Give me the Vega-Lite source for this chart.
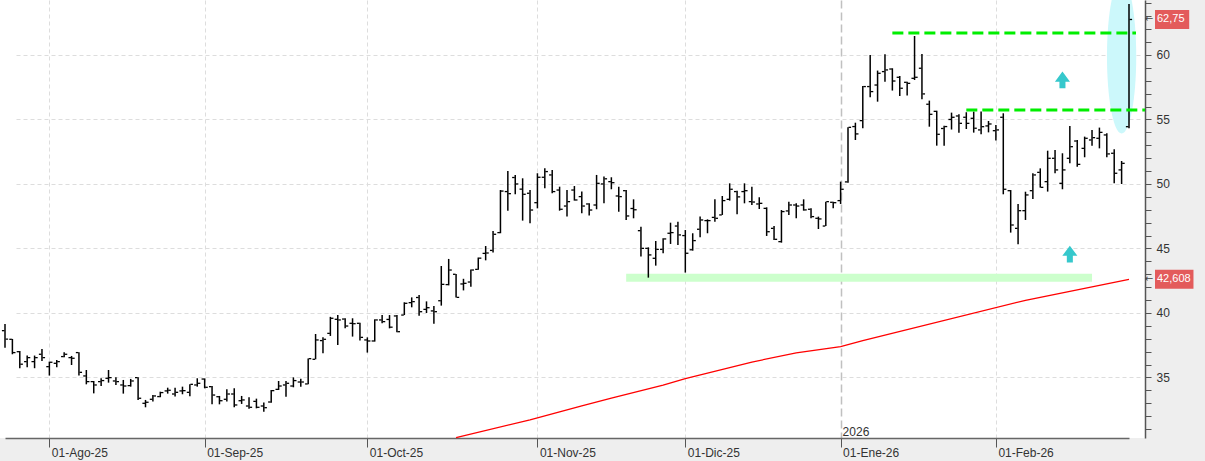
{
  "$schema": "https://vega.github.io/schema/vega-lite/v6.json",
  "width": 1145,
  "height": 438,
  "autosize": {"type": "none"},
  "padding": {"left": 0, "top": 0, "right": 60, "bottom": 23},
  "background": "#eeeeee",
  "config": {"view": {"stroke": null, "fill": "#ffffff"}, "font": "Liberation Sans"},
  "datasets": {
    "bars": [
      {"d":"2025-07-24","o":38.63,"h":39.15,"l":37.31,"c":37.98},
      {"d":"2025-07-25","o":37.96,"h":37.99,"l":36.80,"c":36.93},
      {"d":"2025-07-28","o":37.00,"h":37.06,"l":35.72,"c":36.03},
      {"d":"2025-07-29","o":36.23,"h":36.70,"l":35.79,"c":36.54},
      {"d":"2025-07-30","o":36.23,"h":36.70,"l":35.72,"c":36.54},
      {"d":"2025-07-31","o":36.80,"h":37.21,"l":36.28,"c":36.54},
      {"d":"2025-08-01","o":35.84,"h":36.23,"l":35.15,"c":36.18},
      {"d":"2025-08-04","o":36.10,"h":36.36,"l":35.79,"c":36.23},
      {"d":"2025-08-05","o":36.62,"h":36.95,"l":36.57,"c":36.80},
      {"d":"2025-08-06","o":36.54,"h":36.67,"l":35.97,"c":36.49},
      {"d":"2025-08-07","o":36.93,"h":36.95,"l":35.15,"c":35.40},
      {"d":"2025-08-08","o":35.12,"h":35.58,"l":34.47,"c":34.68},
      {"d":"2025-08-11","o":34.68,"h":34.73,"l":33.77,"c":34.42},
      {"d":"2025-08-12","o":34.68,"h":34.94,"l":34.34,"c":34.76},
      {"d":"2025-08-13","o":34.94,"h":35.58,"l":34.60,"c":34.99},
      {"d":"2025-08-14","o":34.73,"h":35.02,"l":34.42,"c":34.68},
      {"d":"2025-08-15","o":34.42,"h":34.81,"l":33.75,"c":34.34},
      {"d":"2025-08-18","o":34.37,"h":34.89,"l":34.29,"c":34.73},
      {"d":"2025-08-19","o":34.99,"h":35.02,"l":33.26,"c":33.39},
      {"d":"2025-08-20","o":33.00,"h":33.26,"l":32.69,"c":33.08},
      {"d":"2025-08-21","o":33.31,"h":33.65,"l":33.13,"c":33.57},
      {"d":"2025-08-22","o":33.52,"h":33.90,"l":33.47,"c":33.83},
      {"d":"2025-08-25","o":33.96,"h":34.21,"l":33.75,"c":34.01},
      {"d":"2025-08-26","o":33.72,"h":34.21,"l":33.52,"c":33.85},
      {"d":"2025-08-27","o":33.96,"h":34.29,"l":33.70,"c":33.98},
      {"d":"2025-08-28","o":33.85,"h":34.47,"l":33.54,"c":34.47},
      {"d":"2025-08-29","o":34.42,"h":34.94,"l":34.29,"c":34.55},
      {"d":"2025-09-01","o":34.88,"h":34.93,"l":34.16,"c":34.24},
      {"d":"2025-09-02","o":34.29,"h":34.34,"l":32.92,"c":33.64},
      {"d":"2025-09-03","o":33.51,"h":33.57,"l":32.92,"c":33.20},
      {"d":"2025-09-04","o":33.31,"h":34.08,"l":33.13,"c":33.72},
      {"d":"2025-09-05","o":33.72,"h":34.16,"l":32.69,"c":32.87},
      {"d":"2025-09-08","o":33.20,"h":33.57,"l":32.95,"c":33.26},
      {"d":"2025-09-09","o":32.79,"h":33.46,"l":32.58,"c":32.69},
      {"d":"2025-09-10","o":33.15,"h":33.36,"l":32.61,"c":32.69},
      {"d":"2025-09-11","o":32.79,"h":33.07,"l":32.35,"c":32.66},
      {"d":"2025-09-12","o":33.10,"h":34.03,"l":33.05,"c":33.98},
      {"d":"2025-09-15","o":34.08,"h":34.73,"l":34.03,"c":34.34},
      {"d":"2025-09-16","o":34.42,"h":34.73,"l":33.51,"c":34.55},
      {"d":"2025-09-17","o":34.34,"h":35.01,"l":34.24,"c":34.76},
      {"d":"2025-09-18","o":34.65,"h":34.91,"l":34.29,"c":34.65},
      {"d":"2025-09-19","o":34.50,"h":36.48,"l":34.47,"c":36.46},
      {"d":"2025-09-22","o":36.41,"h":38.37,"l":36.41,"c":37.91},
      {"d":"2025-09-23","o":37.86,"h":38.11,"l":36.87,"c":37.96},
      {"d":"2025-09-24","o":38.42,"h":39.70,"l":38.22,"c":39.59},
      {"d":"2025-09-25","o":39.51,"h":39.84,"l":37.52,"c":39.46},
      {"d":"2025-09-26","o":39.53,"h":39.59,"l":38.81,"c":38.99},
      {"d":"2025-09-29","o":39.20,"h":39.59,"l":38.17,"c":39.17},
      {"d":"2025-09-30","o":39.20,"h":39.25,"l":37.86,"c":38.11},
      {"d":"2025-10-01","o":37.91,"h":38.11,"l":36.93,"c":37.83},
      {"d":"2025-10-02","o":37.83,"h":39.51,"l":37.78,"c":39.46},
      {"d":"2025-10-03","o":39.46,"h":39.84,"l":39.20,"c":39.33},
      {"d":"2025-10-06","o":39.50,"h":39.84,"l":38.81,"c":38.90},
      {"d":"2025-10-07","o":39.77,"h":39.84,"l":38.50,"c":38.55},
      {"d":"2025-10-08","o":39.84,"h":40.83,"l":39.84,"c":40.75},
      {"d":"2025-10-09","o":40.80,"h":41.21,"l":40.44,"c":40.88},
      {"d":"2025-10-10","o":41.20,"h":41.39,"l":39.79,"c":40.10},
      {"d":"2025-10-13","o":40.28,"h":40.90,"l":40.00,"c":40.41},
      {"d":"2025-10-14","o":40.16,"h":40.54,"l":39.17,"c":40.10},
      {"d":"2025-10-15","o":40.95,"h":43.64,"l":40.57,"c":42.22},
      {"d":"2025-10-16","o":42.20,"h":44.19,"l":42.14,"c":43.33},
      {"d":"2025-10-17","o":43.00,"h":43.02,"l":41.20,"c":41.21},
      {"d":"2025-10-20","o":42.25,"h":42.65,"l":41.75,"c":42.30},
      {"d":"2025-10-21","o":42.40,"h":43.38,"l":42.04,"c":43.33},
      {"d":"2025-10-22","o":43.38,"h":44.30,"l":43.35,"c":44.25},
      {"d":"2025-10-23","o":44.62,"h":45.19,"l":44.08,"c":44.65},
      {"d":"2025-10-24","o":44.85,"h":46.36,"l":44.68,"c":46.10},
      {"d":"2025-10-27","o":46.23,"h":49.53,"l":46.18,"c":49.45},
      {"d":"2025-10-28","o":49.41,"h":51.01,"l":47.93,"c":49.25},
      {"d":"2025-10-29","o":50.50,"h":50.70,"l":49.20,"c":50.00},
      {"d":"2025-10-30","o":49.60,"h":50.44,"l":47.16,"c":49.20},
      {"d":"2025-10-31","o":49.28,"h":49.53,"l":46.95,"c":47.98},
      {"d":"2025-11-03","o":48.55,"h":50.83,"l":48.11,"c":50.52},
      {"d":"2025-11-04","o":50.52,"h":51.21,"l":49.66,"c":50.96},
      {"d":"2025-11-05","o":50.70,"h":51.08,"l":49.28,"c":49.41},
      {"d":"2025-11-06","o":49.53,"h":49.79,"l":47.93,"c":48.04},
      {"d":"2025-11-07","o":48.29,"h":49.53,"l":47.47,"c":48.63},
      {"d":"2025-11-10","o":49.53,"h":49.84,"l":48.71,"c":48.76},
      {"d":"2025-11-11","o":49.02,"h":49.41,"l":47.73,"c":48.29},
      {"d":"2025-11-12","o":48.45,"h":48.50,"l":47.55,"c":47.98},
      {"d":"2025-11-13","o":48.37,"h":50.70,"l":48.04,"c":50.05},
      {"d":"2025-11-14","o":50.00,"h":50.57,"l":48.50,"c":50.40},
      {"d":"2025-11-17","o":50.18,"h":50.52,"l":49.59,"c":50.10},
      {"d":"2025-11-18","o":49.07,"h":49.79,"l":47.85,"c":49.02},
      {"d":"2025-11-19","o":49.48,"h":49.53,"l":47.21,"c":47.52},
      {"d":"2025-11-20","o":48.10,"h":48.81,"l":47.34,"c":48.00},
      {"d":"2025-11-21","o":46.38,"h":46.69,"l":44.37,"c":45.01},
      {"d":"2025-11-24","o":45.01,"h":45.09,"l":42.74,"c":44.50},
      {"d":"2025-11-25","o":44.24,"h":45.58,"l":43.67,"c":44.93},
      {"d":"2025-11-26","o":44.93,"h":45.79,"l":44.63,"c":45.74},
      {"d":"2025-11-27","o":46.18,"h":47.00,"l":45.35,"c":46.23},
      {"d":"2025-11-28","o":46.74,"h":47.08,"l":45.27,"c":46.05},
      {"d":"2025-12-01","o":46.00,"h":46.43,"l":43.13,"c":44.63},
      {"d":"2025-12-02","o":44.90,"h":46.18,"l":44.83,"c":45.61},
      {"d":"2025-12-03","o":46.49,"h":47.47,"l":45.87,"c":47.21},
      {"d":"2025-12-04","o":47.16,"h":47.26,"l":46.18,"c":47.16},
      {"d":"2025-12-05","o":47.41,"h":48.81,"l":47.08,"c":47.34},
      {"d":"2025-12-08","o":47.60,"h":49.07,"l":47.60,"c":48.71},
      {"d":"2025-12-09","o":48.81,"h":50.05,"l":48.71,"c":49.59},
      {"d":"2025-12-10","o":49.41,"h":49.48,"l":47.65,"c":49.00},
      {"d":"2025-12-11","o":49.41,"h":50.05,"l":48.50,"c":49.48},
      {"d":"2025-12-12","o":48.63,"h":49.79,"l":48.37,"c":48.60},
      {"d":"2025-12-15","o":48.45,"h":48.97,"l":48.06,"c":48.50},
      {"d":"2025-12-16","o":48.11,"h":48.19,"l":45.97,"c":46.30},
      {"d":"2025-12-17","o":46.56,"h":46.74,"l":45.66,"c":45.71},
      {"d":"2025-12-18","o":45.53,"h":47.98,"l":45.45,"c":47.86},
      {"d":"2025-12-19","o":47.91,"h":48.63,"l":47.60,"c":48.37},
      {"d":"2025-12-22","o":48.37,"h":48.50,"l":47.34,"c":48.29},
      {"d":"2025-12-23","o":48.37,"h":48.81,"l":47.93,"c":47.99},
      {"d":"2025-12-24","o":48.04,"h":48.11,"l":47.34,"c":47.47},
      {"d":"2025-12-29","o":47.34,"h":47.47,"l":46.51,"c":47.29},
      {"d":"2025-12-30","o":46.74,"h":48.63,"l":46.74,"c":48.63},
      {"d":"2025-12-31","o":48.58,"h":48.63,"l":48.11,"c":48.55},
      {"d":"2026-01-02","o":48.71,"h":50.18,"l":48.45,"c":49.59},
      {"d":"2026-01-05","o":50.16,"h":54.39,"l":50.10,"c":54.39},
      {"d":"2026-01-06","o":54.45,"h":54.75,"l":53.41,"c":53.88},
      {"d":"2026-01-07","o":54.91,"h":57.60,"l":54.32,"c":57.55},
      {"d":"2026-01-08","o":57.55,"h":60.00,"l":56.72,"c":57.16},
      {"d":"2026-01-09","o":57.67,"h":58.79,"l":56.38,"c":58.58},
      {"d":"2026-01-12","o":58.71,"h":60.05,"l":57.93,"c":58.84},
      {"d":"2026-01-13","o":58.91,"h":58.97,"l":57.24,"c":57.98},
      {"d":"2026-01-14","o":58.27,"h":58.37,"l":56.82,"c":57.42},
      {"d":"2026-01-15","o":57.88,"h":57.93,"l":56.85,"c":57.80},
      {"d":"2026-01-16","o":58.19,"h":61.47,"l":58.06,"c":58.27},
      {"d":"2026-01-19","o":58.97,"h":60.08,"l":56.56,"c":56.98},
      {"d":"2026-01-20","o":56.18,"h":56.46,"l":54.44,"c":55.40},
      {"d":"2026-01-21","o":55.63,"h":55.68,"l":52.97,"c":53.85},
      {"d":"2026-01-22","o":54.30,"h":54.52,"l":52.97,"c":54.45},
      {"d":"2026-01-23","o":55.00,"h":55.53,"l":54.22,"c":55.17},
      {"d":"2026-01-26","o":55.27,"h":55.40,"l":53.98,"c":54.70},
      {"d":"2026-01-27","o":55.17,"h":55.56,"l":54.26,"c":54.70},
      {"d":"2026-01-28","o":55.09,"h":55.61,"l":53.98,"c":54.32},
      {"d":"2026-01-29","o":54.19,"h":55.61,"l":53.85,"c":54.44},
      {"d":"2026-01-30","o":54.50,"h":54.88,"l":54.00,"c":54.65},
      {"d":"2026-02-02","o":54.13,"h":54.57,"l":53.36,"c":54.19},
      {"d":"2026-02-03","o":55.17,"h":55.48,"l":49.20,"c":49.59},
      {"d":"2026-02-04","o":49.48,"h":49.53,"l":46.23,"c":46.82},
      {"d":"2026-02-05","o":46.56,"h":48.45,"l":45.32,"c":47.93},
      {"d":"2026-02-06","o":47.93,"h":49.40,"l":47.21,"c":49.15},
      {"d":"2026-02-09","o":49.48,"h":50.83,"l":48.84,"c":50.70},
      {"d":"2026-02-10","o":50.90,"h":51.21,"l":49.72,"c":49.74},
      {"d":"2026-02-11","o":50.18,"h":52.58,"l":49.41,"c":51.99},
      {"d":"2026-02-12","o":51.99,"h":52.64,"l":50.83,"c":51.09},
      {"d":"2026-02-13","o":50.05,"h":52.38,"l":49.59,"c":51.09},
      {"d":"2026-02-16","o":51.99,"h":54.50,"l":51.60,"c":52.89},
      {"d":"2026-02-17","o":53.33,"h":53.41,"l":51.34,"c":51.52},
      {"d":"2026-02-18","o":52.76,"h":53.67,"l":52.07,"c":53.54},
      {"d":"2026-02-19","o":53.41,"h":54.19,"l":52.97,"c":53.59},
      {"d":"2026-02-20","o":53.54,"h":54.37,"l":52.76,"c":54.00},
      {"d":"2026-02-23","o":53.80,"h":53.93,"l":52.07,"c":52.33},
      {"d":"2026-02-24","o":52.38,"h":52.69,"l":50.05,"c":50.83},
      {"d":"2026-02-25","o":51.09,"h":51.78,"l":50.00,"c":51.60},
      {"d":"2026-02-26","o":54.44,"h":63.95,"l":54.32,"c":62.75}
    ],
    "ma": [
      {"d":"2025-10-17","v":30.33},
      {"d":"2025-10-31","v":31.72},
      {"d":"2025-11-06","v":32.34},
      {"d":"2025-11-11","v":32.80},
      {"d":"2025-11-17","v":33.40},
      {"d":"2025-11-26","v":34.40},
      {"d":"2025-12-01","v":34.91},
      {"d":"2025-12-12","v":36.20},
      {"d":"2025-12-22","v":36.90},
      {"d":"2026-01-02","v":37.40},
      {"d":"2026-01-07","v":37.86},
      {"d":"2026-02-06","v":40.98},
      {"d":"2026-02-26","v":42.61}
    ],
    "band": [{"d":"2025-11-19","d2":"2026-02-19","v":42.74}],
    "dashTop": [{"d":"2026-01-13","d2":"2026-02-26","v":61.7}],
    "dashLow": [{"d":"2026-01-27","d2":"2026-02-26","v":55.74}],
    "arrows": [{"d":"2026-02-13","v":58.06},{"d":"2026-02-16","v":44.57}],
    "ellipse": [{"d":"2026-02-25","v":59.88}],
    "labels": [{"d":"2026-02-26","v":62.75,"t":"62,75"},{"d":"2026-02-26","v":42.608,"t":"42,608"}],
    "year": [{"d":"2026-01-02","v":30.45,"t":"2026"}]
  },
  "encoding": {
    "x": {
      "field": "d", "type": "ordinal", "title": null,
      "scale": {"type": "point", "range": [5, 1129], "padding": 0, "round": false},
      "axis": {
        "values": ["2025-08-01","2025-09-01","2025-10-01","2025-11-03","2025-12-01","2026-01-02","2026-02-02"],
        "labelExpr": "datum.value==='2025-08-01'?'01-Ago-25':datum.value==='2025-09-01'?'01-Sep-25':datum.value==='2025-10-01'?'01-Oct-25':datum.value==='2025-11-03'?'01-Nov-25':datum.value==='2025-12-01'?'01-Dic-25':datum.value==='2026-01-02'?'01-Ene-26':'01-Feb-26'",
        "labelAngle": 0, "labelAlign": "left", "labelBaseline": "top", "labelOffset": 2, "labelPadding": 0,
        "labelFontSize": 12, "labelColor": "#333333", "labelFont": "Liberation Sans", "labelOverlap": false,
        "tickSize": 9, "tickColor": "#555555", "domainColor": "#666666", "domainWidth": 1.5,
        "grid": true,
        "gridColor": {"condition": {"test": "datum.value==='2026-01-02'", "value": "#c0c0c0"}, "value": "#dddddd"},
        "gridDash": {"condition": {"test": "datum.value==='2026-01-02'", "value": [8, 4]}, "value": [4, 3]},
        "gridWidth": {"condition": {"test": "datum.value==='2026-01-02'", "value": 1.5}, "value": 1}
      }
    }
  },
  "layer": [
    {
      "data": {"name": "ellipse"},
      "mark": {"type": "point", "shape": "M-0.19,0A0.19,1,0,1,0,0.19,0A0.19,1,0,1,0,-0.19,0Z", "size": 23716, "filled": true, "fill": "#ccf8fb", "opacity": 1, "strokeWidth": 0},
      "encoding": {"y": {"field": "v", "type": "quantitative", "title": null}}
    },
    {
      "data": {"name": "band"},
      "mark": {"type": "rule", "color": "#ccffcc", "strokeWidth": 8, "strokeCap": "butt"},
      "encoding": {"x2": {"field": "d2"}, "y": {"field": "v", "type": "quantitative", "title": null}}
    },
    {
      "data": {"name": "ma"},
      "mark": {"type": "line", "color": "#ff0000", "strokeWidth": 1.3},
      "encoding": {"y": {"field": "v", "type": "quantitative", "title": null}}
    },
    {
      "data": {"name": "bars"},
      "mark": {"type": "rule", "color": "#000000", "strokeWidth": 1.5},
      "encoding": {
        "y": {
          "field": "l", "type": "quantitative", "title": null,
          "scale": {"domain": [30.31, 64.26], "nice": false, "zero": false},
          "axis": {
            "orient": "right",
            "values": [31,32,33,34,35,36,37,38,39,40,41,42,43,44,45,46,47,48,49,50,51,52,53,54,55,56,57,58,59,60,61,62,63,64],
            "tickCount": 200,
            "labelExpr": "datum.value % 5 === 0 ? datum.value : ''",
            "labelOverlap": false, "labelFlush": false, "labelFont": "Liberation Sans", "labelFontSize": 12, "labelColor": "#333333",
            "labelPadding": 5, "tickSize": 6, "tickColor": "#555555", "domainColor": "#555555", "domainWidth": 1.5,
            "grid": true, "gridColor": "#dddddd", "gridDash": [4, 3],
            "gridOpacity": {"condition": {"test": "datum.value % 5 === 0", "value": 1}, "value": 0}
          }
        },
        "y2": {"field": "h"}
      }
    },
    {
      "data": {"name": "bars"},
      "mark": {"type": "tick", "color": "#000000", "size": 2.6, "thickness": 1.3, "xOffset": -1.8, "opacity": 1},
      "encoding": {"y": {"field": "o", "type": "quantitative", "title": null}}
    },
    {
      "data": {"name": "bars"},
      "mark": {"type": "tick", "color": "#000000", "size": 2.6, "thickness": 1.3, "xOffset": 1.8, "opacity": 1},
      "encoding": {"y": {"field": "c", "type": "quantitative", "title": null}}
    },
    {
      "data": {"name": "dashTop"},
      "mark": {"type": "rule", "color": "#00ee00", "strokeWidth": 3, "strokeDash": [11, 5], "x2Offset": 7},
      "encoding": {"x2": {"field": "d2"}, "y": {"field": "v", "type": "quantitative", "title": null}}
    },
    {
      "data": {"name": "dashLow"},
      "mark": {"type": "rule", "color": "#00ee00", "strokeWidth": 3, "strokeDash": [11, 5], "x2Offset": 16},
      "encoding": {"x2": {"field": "d2"}, "y": {"field": "v", "type": "quantitative", "title": null}}
    },
    {
      "data": {"name": "arrows"},
      "mark": {"type": "point", "shape": "M0,-1L0.9,0.2H0.36V1H-0.36V0.2H-0.9Z", "size": 280, "filled": true, "fill": "#36c8cc", "opacity": 1, "strokeWidth": 0},
      "encoding": {"y": {"field": "v", "type": "quantitative", "title": null}}
    },
    {
      "data": {"name": "year"},
      "mark": {"type": "text", "align": "left", "baseline": "alphabetic", "dx": 2, "fontSize": 12, "font": "Liberation Sans", "color": "#333333"},
      "encoding": {"y": {"field": "v", "type": "quantitative", "title": null}, "text": {"field": "t"}}
    },
    {
      "data": {"name": "labels"},
      "transform": [{"filter": "datum.t === '62,75'"}],
      "mark": {"type": "point", "shape": "M0,-1H3.6V1H0Z", "size": 361, "filled": true, "fill": "#e35b5b", "opacity": 1, "strokeWidth": 0, "xOffset": 26},
      "encoding": {"y": {"field": "v", "type": "quantitative", "title": null}}
    },
    {
      "data": {"name": "labels"},
      "transform": [{"filter": "datum.t === '42,608'"}],
      "mark": {"type": "point", "shape": "M0,-1H4.05V1H0Z", "size": 361, "filled": true, "fill": "#e35b5b", "opacity": 1, "strokeWidth": 0, "xOffset": 26},
      "encoding": {"y": {"field": "v", "type": "quantitative", "title": null}}
    },
    {
      "data": {"name": "labels"},
      "mark": {"type": "text", "align": "left", "baseline": "middle", "dx": 28, "fontSize": 11, "font": "Liberation Sans", "color": "#ffffff"},
      "encoding": {"y": {"field": "v", "type": "quantitative", "title": null}, "text": {"field": "t"}}
    },
    {
      "data": {"name": "labels"},
      "mark": {"type": "text", "align": "center", "baseline": "middle", "dx": 20, "fontSize": 10, "font": "DejaVu Sans", "color": "#444444", "text": "←"},
      "encoding": {"y": {"field": "v", "type": "quantitative", "title": null}}
    }
  ]
}
